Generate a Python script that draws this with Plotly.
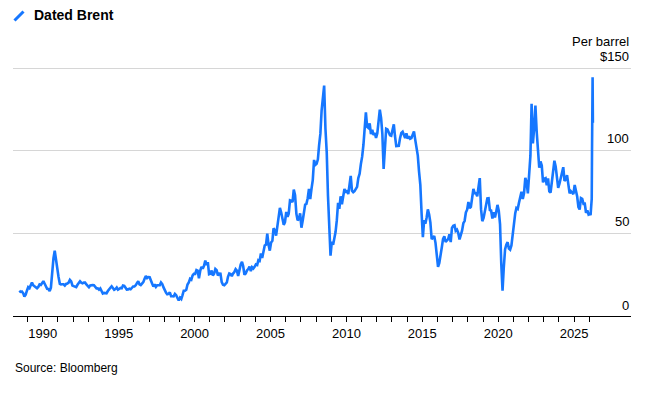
import pandas as pd
import plotly.graph_objects as go

# Monthly Dated Brent, USD per barrel, starting June 1988
brent_1988_1989 = [15.3, 14.6, 14.8, 13.9, 11.8, 12.9, 15.3,
                   17.5, 16.9, 18.7, 20.3, 18.6, 17.9, 17.6, 16.8, 17.6, 19.1, 18.8, 19.9]
brent_1990s = [
    21.1, 19.5, 18.4, 16.4, 16.3, 15.1, 17.2, 27.2, 35.0, 39.5, 32.9, 27.3,   # 1990
    23.6, 19.5, 19.1, 19.2, 19.2, 18.4, 19.4, 19.6, 20.2, 21.9, 21.0, 18.4,   # 1991
    18.1, 18.2, 17.5, 18.9, 19.9, 21.0, 20.2, 19.8, 20.2, 20.2, 19.1, 18.2,   # 1992
    17.4, 18.5, 18.8, 18.7, 18.6, 17.6, 16.7, 16.8, 16.0, 16.7, 15.1, 13.6,   # 1993
    14.0, 13.9, 13.7, 15.1, 16.4, 17.1, 18.0, 16.9, 15.9, 16.3, 17.2, 15.9,   # 1994
    16.6, 17.0, 16.8, 18.5, 18.3, 17.2, 16.0, 16.1, 16.5, 16.2, 16.9, 17.9,   # 1995
    17.9, 18.6, 19.9, 21.1, 19.2, 18.7, 19.6, 20.5, 22.6, 24.2, 23.0, 23.6,   # 1996
    23.5, 20.9, 19.7, 17.9, 19.1, 17.6, 18.6, 18.6, 18.6, 20.3, 19.3, 17.3,   # 1997
    15.3, 14.1, 13.2, 13.4, 14.3, 12.0, 12.0, 11.9, 13.4, 12.6, 10.9, 9.5,    # 1998
    11.1, 10.3, 12.5, 15.3, 15.3, 15.9, 19.1, 20.3, 22.5, 22.0, 24.6, 25.5,   # 1999
]
brent_2000s = [
    25.5, 27.8, 27.5, 22.8, 27.3, 29.8, 28.7, 30.4, 33.5, 30.9, 32.6, 25.3,   # 2000
    25.6, 27.5, 24.5, 25.6, 28.5, 27.8, 24.6, 25.7, 25.6, 20.5, 18.9, 18.6,   # 2001
    19.5, 20.3, 23.7, 25.7, 25.4, 24.1, 25.7, 26.6, 28.4, 27.5, 24.3, 28.3,   # 2002
    31.2, 32.8, 30.3, 25.0, 25.8, 27.6, 28.4, 29.9, 27.1, 29.6, 28.8, 29.8,   # 2003
    31.2, 30.9, 33.8, 33.4, 37.9, 35.2, 38.2, 42.7, 43.2, 49.8, 43.1, 39.6,   # 2004
    44.5, 45.5, 53.1, 51.9, 48.7, 54.3, 57.5, 65.5, 62.7, 58.5, 55.2, 56.9,   # 2005
    63.0, 60.0, 62.0, 70.1, 69.8, 68.9, 76.5, 73.2, 62.0, 58.0, 58.7, 62.2,   # 2006
    53.5, 57.8, 62.1, 67.5, 67.9, 71.3, 77.0, 70.8, 77.1, 82.3, 94.5, 91.5,   # 2007
    92.2, 94.9, 103.3, 110.4, 124.6, 133.5, 139.5, 113.4, 99.1, 72.8, 53.2, 36.5,  # 2008
    44.9, 43.2, 46.8, 50.8, 57.9, 68.6, 64.9, 72.5, 67.7, 73.2, 77.0, 74.7,   # 2009
]
brent_2010s = [
    76.2, 73.8, 78.8, 84.8, 75.9, 75.0, 75.6, 77.1, 78.2, 83.5, 86.1, 92.0,   # 2010
    96.5, 103.7, 114.6, 123.3, 114.5, 113.9, 116.7, 110.2, 112.8, 109.6, 110.8, 107.9,  # 2011
    110.7, 119.3, 125.0, 119.8, 110.3, 89.0, 102.6, 113.4, 113.0, 111.5, 109.5, 109.2,  # 2012
    112.3, 116.1, 109.0, 102.9, 103.0, 103.1, 107.7, 110.9, 111.6, 109.1, 107.8, 110.6,  # 2013
    107.4, 108.8, 107.4, 107.8, 109.5, 111.8, 106.8, 101.6, 97.1, 87.4, 79.4, 62.3,   # 2014
    47.8, 58.1, 55.9, 59.5, 64.6, 61.5, 56.6, 46.5, 47.6, 48.4, 44.3, 38.0,   # 2015
    29.8, 32.2, 38.2, 41.6, 46.7, 48.3, 44.9, 45.8, 46.6, 49.5, 44.8, 53.3,   # 2016
    54.6, 54.9, 51.6, 52.3, 50.3, 46.4, 48.5, 51.7, 56.2, 57.5, 62.7, 64.4,   # 2017
    69.1, 65.3, 66.0, 72.1, 76.9, 74.4, 74.3, 72.5, 78.9, 83.5, 64.7, 57.4,   # 2018
    59.4, 64.0, 66.1, 71.2, 71.3, 64.2, 63.9, 59.0, 62.8, 59.7, 63.2, 67.3,   # 2019
]
brent_2020s = [
    63.7, 55.7, 32.0, 15.3, 29.4, 40.3, 43.2, 44.7, 40.9, 40.2, 42.7, 49.9,   # 2020
    54.8, 62.3, 65.4, 64.8, 68.5, 73.2, 75.2, 70.8, 74.5, 83.7, 81.1, 74.2,   # 2021
    86.5, 97.1, 128.5, 104.6, 113.3, 127.5, 111.9, 100.5, 89.8, 93.6, 91.1, 80.9,  # 2022
    83.1, 83.5, 79.2, 83.4, 75.5, 74.8, 80.1, 86.2, 94.0, 90.6, 82.9, 77.6,   # 2023
    80.1, 83.5, 85.4, 90.1, 81.8, 82.6, 85.3, 80.9, 74.3, 75.6, 74.4, 73.8,   # 2024
    79.3, 75.4, 72.5, 66.0, 64.5, 71.4, 71.0, 67.9, 68.0, 62.5, 64.0, 61.5,   # 2025
]
brent_2026_dates = ["2026-01-15", "2026-02-01", "2026-02-15", "2026-03-01",
                    "2026-03-08", "2026-03-15", "2026-03-22", "2026-03-29"]
brent_2026 = [62.0, 61.0, 66.0, 71.0, 100.0, 128.0, 144.5, 117.0]

major_years = [1990, 1995, 2000, 2005, 2010, 2015, 2020, 2025]
minor_years = list(range(1989, 2027))
y_ticks = [0, 50, 100, 150]
y_tick_text = ["0", "50", "100", "$150"]

monthly = brent_1988_1989 + brent_1990s + brent_2000s + brent_2010s + brent_2020s
dates = list(pd.date_range("1988-06-01", periods=len(monthly), freq="MS") + pd.Timedelta(days=14))
dates += list(pd.to_datetime(brent_2026_dates))
values = monthly + brent_2026

BLUE = "#1677ff"
FONT = "Liberation Sans, Arial, sans-serif"

fig = go.Figure()
fig.add_trace(go.Scatter(x=dates, y=values, mode="lines",
                         line=dict(color=BLUE, width=2.6), hoverinfo="skip",
                         showlegend=False))

fig.update_layout(
    width=649, height=398,
    margin=dict(l=13, r=18, t=65, b=82),
    plot_bgcolor="white", paper_bgcolor="white",
    font=dict(family=FONT, size=13, color="#000"),
    showlegend=False,
)
fig.update_xaxes(
    type="date",
    range=["1988-01-15", "2028-10-01"],
    tickvals=[pd.Timestamp(f"{y}-01-01") for y in major_years],
    ticktext=[str(y) for y in major_years],
    ticks="outside", ticklen=5, tickwidth=1, tickcolor="#000",
    minor=dict(tickvals=[pd.Timestamp(f"{y}-01-01") for y in minor_years],
               ticks="outside", ticklen=5, tickwidth=1, tickcolor="#000",
               showgrid=False),
    showgrid=False, showline=True, linecolor="#000", linewidth=1,
    tickfont=dict(size=13, color="#000", family=FONT),
    zeroline=False,
)
fig.update_yaxes(
    range=[0, 152], tickvals=y_ticks, showticklabels=False,
    showgrid=True, gridcolor="#d6d6d6", gridwidth=1.2, zeroline=False,
    showline=False, fixedrange=True,
)

for v, t in zip(y_ticks, y_tick_text):
    fig.add_annotation(x=1, xref="paper", y=v, yref="y", text=t, showarrow=False,
                       xanchor="right", yanchor="middle", yshift=12 if v else 11,
                       font=dict(size=13, color="#000", family=FONT))
fig.add_annotation(x=1, xref="paper", y=150, yref="y", text="Per barrel", showarrow=False,
                   xanchor="right", yanchor="middle", yshift=27,
                   font=dict(size=13, color="#000", family=FONT))

# legend
fig.add_shape(type="line", xref="paper", yref="paper",
              x0=(14.5 - 13) / 618, y0=(316 - 20.5) / 251,
              x1=(23.5 - 13) / 618, y1=(316 - 11.5) / 251,
              line=dict(color=BLUE, width=3))
fig.add_annotation(x=(32 - 13) / 618, xref="paper", y=(316 - 15) / 251, yref="paper",
                   text="<b>Dated Brent</b>", showarrow=False, xanchor="left", yanchor="middle",
                   font=dict(size=14, color="#000", family=FONT))
fig.add_annotation(x=0, xref="paper", y=(316 - 368) / 251, yref="paper",
                   text="Source: Bloomberg", showarrow=False, xanchor="left", yanchor="middle",
                   font=dict(size=12, color="#000", family=FONT))

fig.write_html("out.html")
